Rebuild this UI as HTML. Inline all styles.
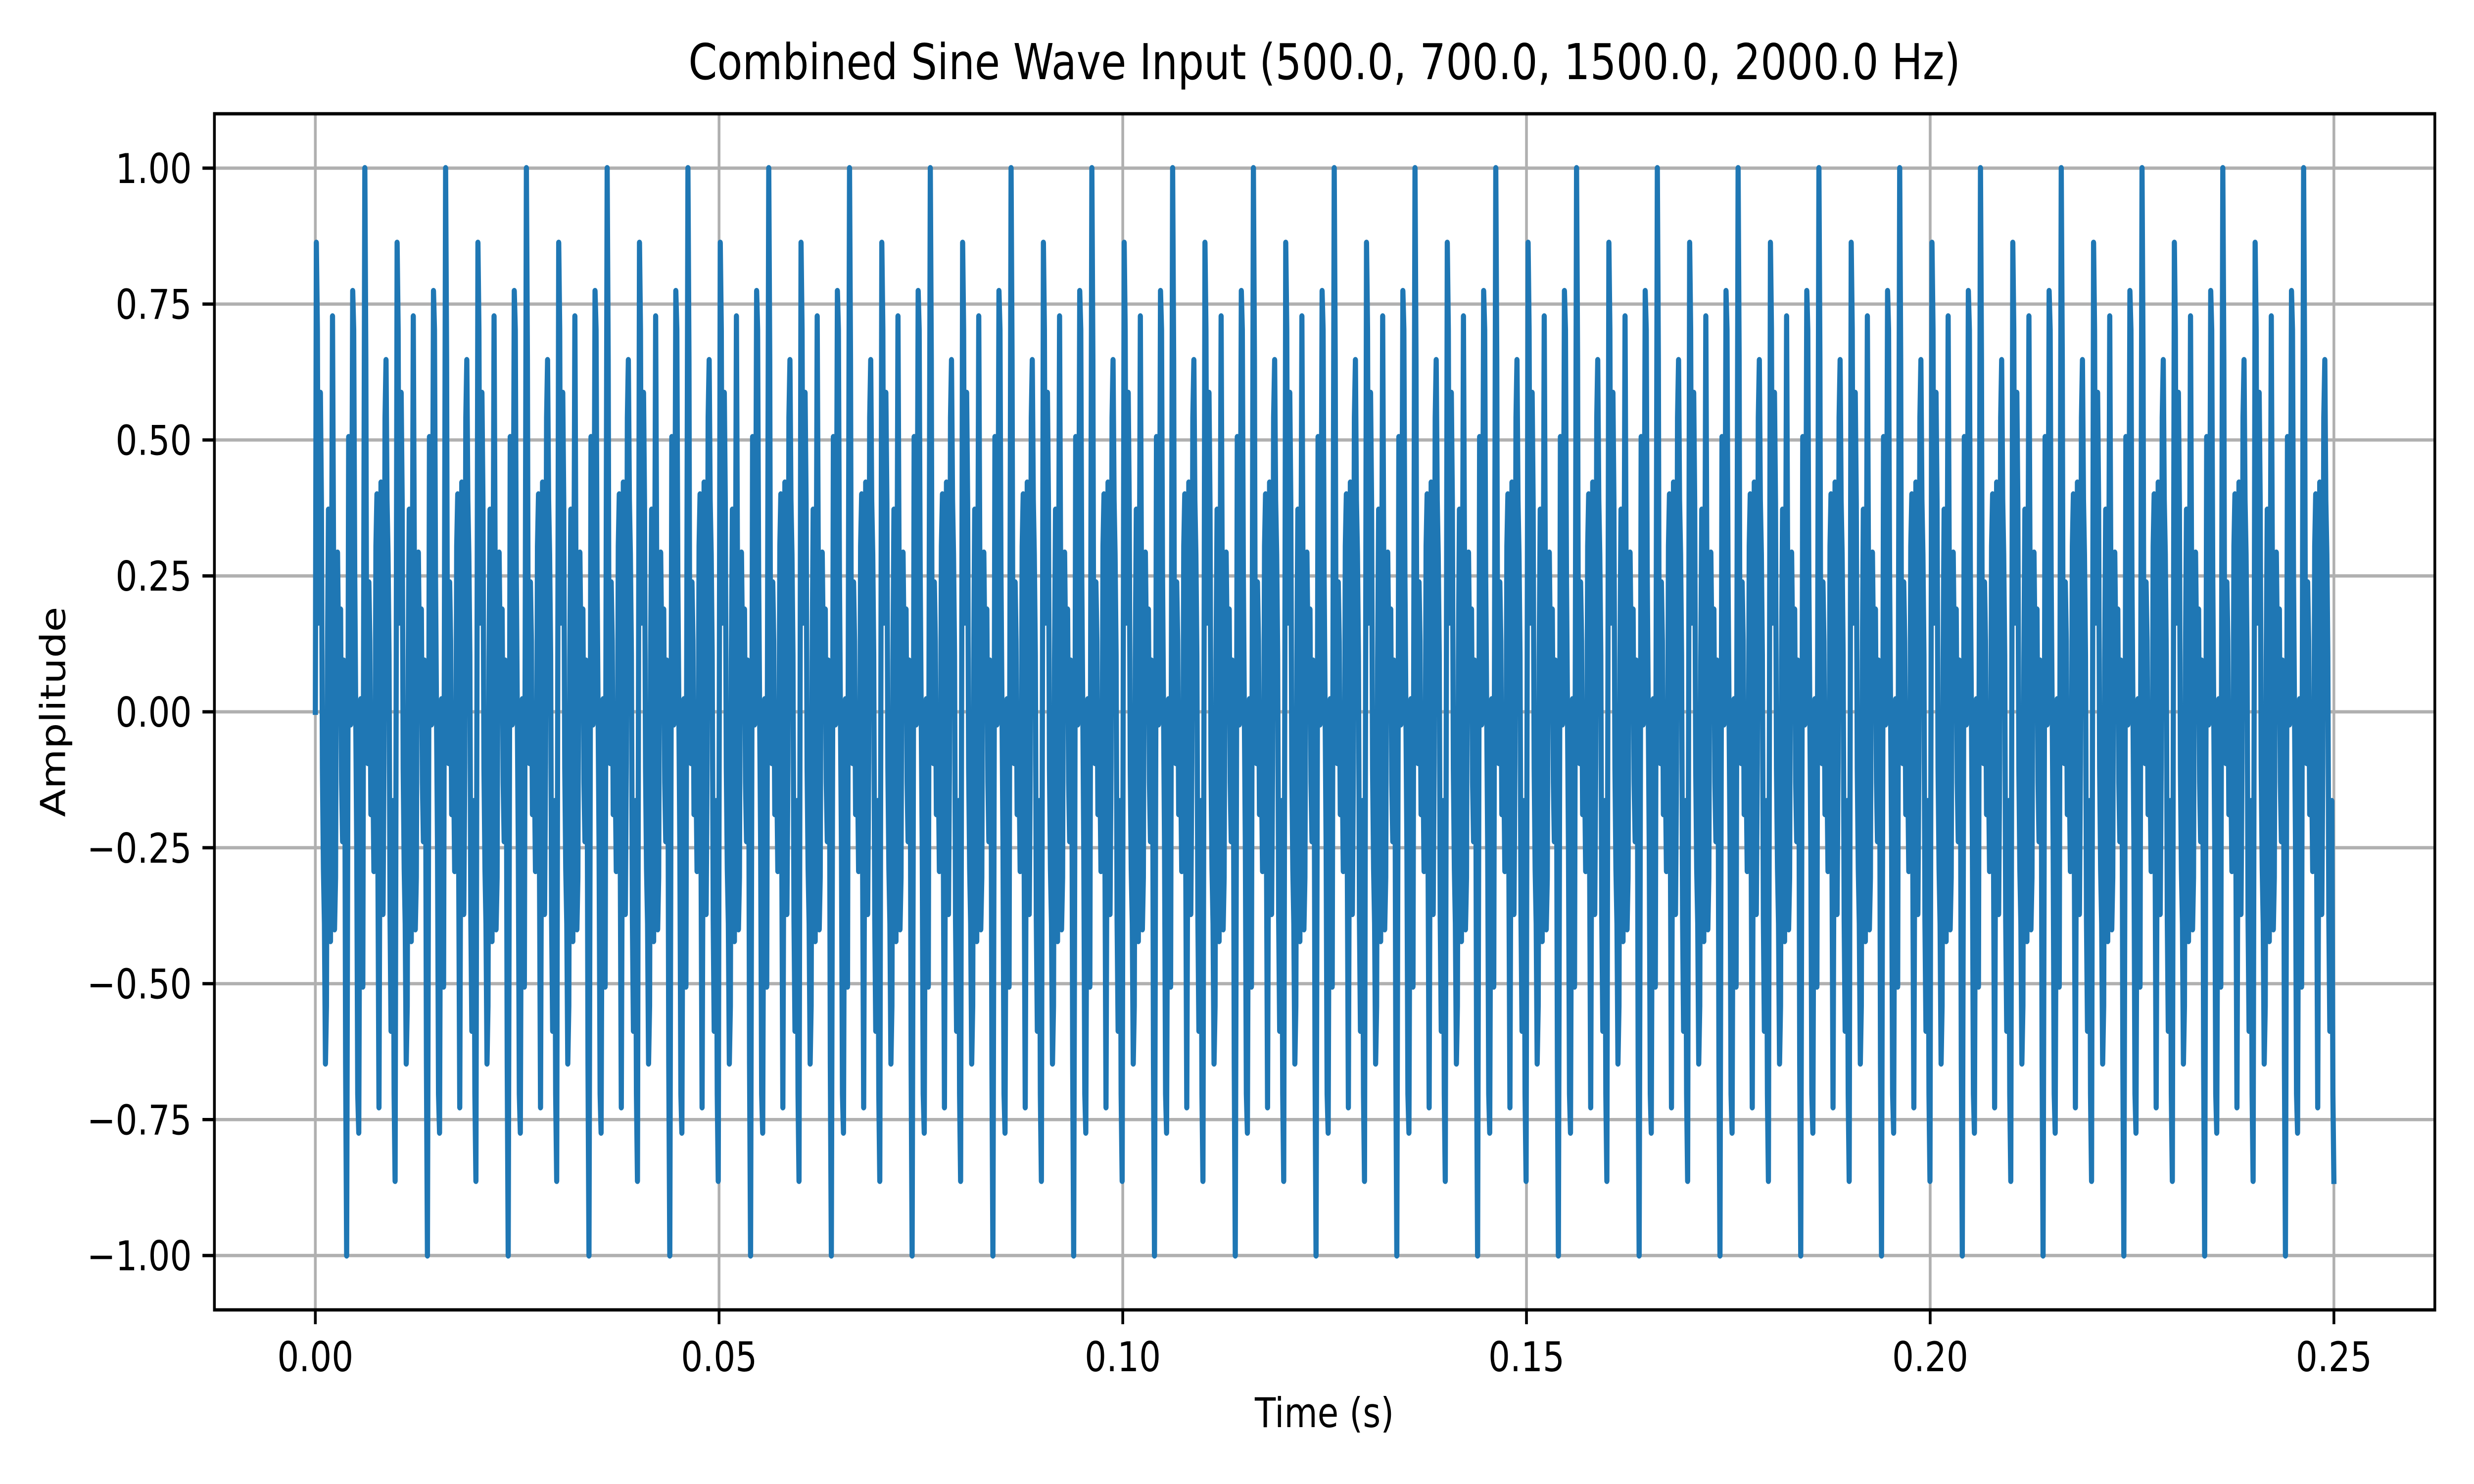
<!DOCTYPE html>
<html><head><meta charset="utf-8">
<style>
html,body{margin:0;padding:0;background:#fff;width:100%;height:100%;overflow:hidden;}
svg{display:block;width:100vw;height:100vh;font-family:"DejaVu Sans","Liberation Sans",sans-serif;}
</style></head>
<body>
<svg id="chart" viewBox="0 0 6000 3000" preserveAspectRatio="none" xmlns="http://www.w3.org/2000/svg">
<rect width="6000" height="3000" fill="#fff"/>
<g id="grid"></g>
<g id="plot"></g>
<g id="axes"></g>
<text x="3212" y="160" font-size="100" text-anchor="middle" fill="#000">Combined Sine Wave Input (500.0, 700.0, 1500.0, 2000.0 Hz)</text>
<text x="3212" y="2885" font-size="83" text-anchor="middle" fill="#000">Time (s)</text>
<text x="0" y="0" font-size="83" text-anchor="middle" fill="#000" transform="translate(158,1439) rotate(-90)">Amplitude</text>
</svg>
<script>
// data
const frequencies = [500, 700, 1500, 2000];
const sampleRate = 8000;
const duration = 0.25;
const xTicks = [0.00, 0.05, 0.10, 0.15, 0.20, 0.25];
const xTickLabels = ["0.00", "0.05", "0.10", "0.15", "0.20", "0.25"];
const yTicks = [-1.00, -0.75, -0.50, -0.25, 0.00, 0.25, 0.50, 0.75, 1.00];
const yTickLabels = ["\u22121.00", "\u22120.75", "\u22120.50", "\u22120.25", "0.00", "0.25", "0.50", "0.75", "1.00"];

const L = 520, R = 5905, T = 230, B = 2648;
const xMin = -0.0125, xMax = 0.2625, yMin = -1.1, yMax = 1.1;
const xs = v => L + (v - xMin) / (xMax - xMin) * (R - L);
const ys = v => B - (v - yMin) / (yMax - yMin) * (B - T);
const NS = "http://www.w3.org/2000/svg";
function mk(tag, attrs, parent) {
  const e = document.createElementNS(NS, tag);
  for (const k in attrs) e.setAttribute(k, attrs[k]);
  parent.appendChild(e);
  return e;
}
const grid = document.getElementById('grid');
const axes = document.getElementById('axes');
const plot = document.getElementById('plot');

xTicks.forEach((t, i) => {
  const x = xs(t);
  const g = mk('line', {x1: x, x2: x, y1: T, y2: B, stroke: '#b0b0b0', 'stroke-width': 6.7}, grid);
  
  
  const tk = mk('line', {x1: x, x2: x, y1: B, y2: B + 29, stroke: '#000', 'stroke-width': 6.7}, axes);
  
  
  const tx = mk('text', {x: x, y: 2772, 'font-size': 83, 'text-anchor': 'middle', fill: '#000'}, axes);
  tx.textContent = xTickLabels[i];
  
  
});
yTicks.forEach((t, i) => {
  const y = ys(t);
  const g = mk('line', {x1: L, x2: R, y1: y, y2: y, stroke: '#b0b0b0', 'stroke-width': 6.7}, grid);
  
  
  const tk = mk('line', {x1: L - 29, x2: L, y1: y, y2: y, stroke: '#000', 'stroke-width': 6.7}, axes);
  
  
  const tx = mk('text', {x: L - 55, y: y + 30, 'font-size': 83, 'text-anchor': 'end', fill: '#000'}, axes);
  tx.textContent = yTickLabels[i];
  
  
});

// signal from frequency data
const n = Math.round(duration * sampleRate);
const vals = [];
for (let i = 0; i < n; i++) {
  const t = i / sampleRate;
  let s = 0;
  frequencies.forEach(f => { s += Math.sin(2 * Math.PI * f * t); });
  vals.push(s);
}
const mx = Math.max(...vals.map(Math.abs));
let d = '';
for (let i = 0; i < n; i++) {
  const t = i * duration / (n - 1);
  d += (i ? 'L' : 'M') + xs(t).toFixed(1) + ',' + ys(vals[i] / mx).toFixed(1);
}
const line = mk('path', {d: d, fill: 'none', stroke: '#1f77b4', 'stroke-width': 12.5, 'stroke-linejoin': 'round', 'stroke-linecap': 'square'}, plot);



const frame = mk('rect', {x: L, y: T, width: R - L, height: B - T, fill: 'none', stroke: '#000', 'stroke-width': 6.7}, axes);


</script>
</body></html>
